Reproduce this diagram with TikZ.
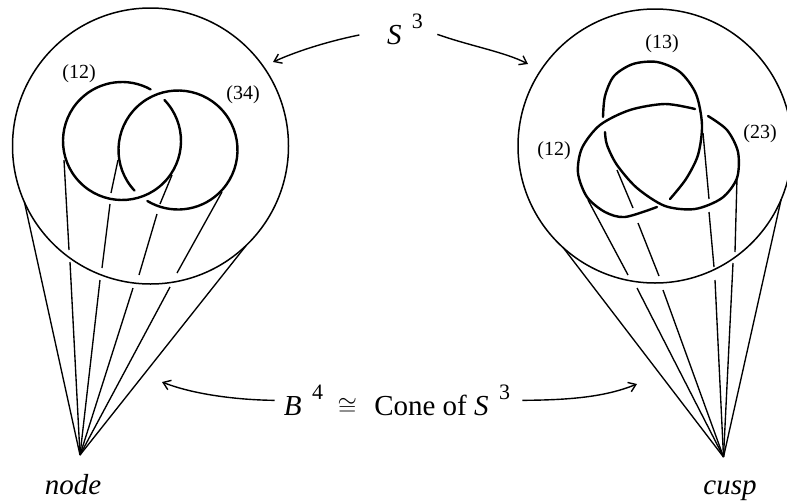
\documentclass[tikz,border=0pt]{standalone}
\usepackage{fontspec}
\setmainfont{Liberation Serif}
\usetikzlibrary{arrows.meta,positioning}
\newcommand{\supnum}[1]{\hspace{0.36em}\raisebox{0.52em}{\fontsize{22}{22}\selectfont #1}}

\begin{document}
\begin{tikzpicture}[
  x=1pt, y=-1pt,
  ball/.style={circle, draw, line width=1.5pt, inner sep=0pt, outer sep=0pt, minimum size=#1},
  knot/.style={line width=2.4pt, line cap=round},
  cone/.style={line width=1.35pt},
  link/.style={line width=1.4pt, -{Straight Barb[length=7pt,width=10pt]}},
  strand/.style={font=\fontsize{20}{22}\selectfont},
  caption/.style={font=\fontsize{29}{31}\selectfont, inner sep=0pt},
]
  \useasboundingbox (0,0) rectangle (787,501);

  % Boundary spheres and cone points
  \node[ball=276pt] (ballL) at (150.5,146) {};
  \node[ball=274pt] (ballR) at (655,146) {};
  \coordinate (apexL) at (80,455);
  \coordinate (apexR) at (723.5,457);

  % Hopf link
  \draw[knot] (122,141) ++(-44:59) arc[start angle=-44, end angle=299, radius=59];
  \draw[knot] (178,150) ++(137:59.5) arc[start angle=137, end angle=481, radius=59.5];
  \node[strand] (l12) at (79,74) {(12)};
  \node[strand] (l34) at (243,95) {(34)};

  % Left cone
  \draw[cone] (ballL.204) -- (apexL);
  \draw[cone] (64,160) -- (69,250) (70,262) -- (apexL);
  \draw[cone] (118,160) -- (111,193) (110,204) -- (102,268) (100,280) -- (apexL);
  \draw[cone] (172,175) -- (160,204) (157,214) -- (139,275) (133,288) -- (apexL);
  \draw[cone] (222,192) -- (177,273) (170,287) -- (apexL);
  \draw[cone] (ballL.314) -- (apexL);

  % Trefoil
  \draw[knot] plot[smooth] coordinates {(603,117) (605,96) (614,76) (633,64) (657,62) (680,72)
    (696,94) (702,125) (698,155) (686,179) (670,199)};
  \draw[knot] plot[smooth] coordinates {(695,109) (665,104) (630,110) (600,125) (582,148)
    (578,173) (587,197) (605,212) (625,217) (657,207)};
  \draw[knot] plot[smooth] coordinates {(708,116) (727,130) (738,152) (737,178) (722,198)
    (695,209) (665,206) (637,188) (617,165) (607,145) (605,132)};
  \node[strand] (r13) at (662,44) {(13)};
  \node[strand] (r12) at (554,151) {(12)};
  \node[strand] (r23) at (760,134) {(23)};

  % Right cone
  \draw[cone] (ballR.228.5) -- (apexR);
  \draw[cone] (588,200) -- (628,275) (637,288) -- (apexR);
  \draw[cone] (617,170) -- (633,208) (638,223) -- (659,276) (663,290) -- (apexR);
  \draw[cone] (703,133) -- (709,199) (709,212) -- (714,267) (715,280) -- (apexR);
  \draw[cone] (737,178) -- (735,252) (733,263) -- (apexR);
  \draw[cone] (ballR.337) -- (apexR);

  % Labels
  \node[caption, anchor=base] (sphere) at (405,44) {\textit{S}\supnum{3}};
  \node[caption, anchor=base] (ball4) at (397,415) {\textit{B}\supnum{4}\hspace{0.5em}$\cong$\hspace{0.6em}Cone of \textit{S}\supnum{3}};
  \node[caption, anchor=base] (nodept) at (73,494) {\textit{node}};
  \node[caption, anchor=base] (cusppt) at (730,494) {\textit{cusp}};

  % Arrows
  \coordinate (ballLtop) at (273,62);
  \coordinate (ballRtop) at (528,64);
  \coordinate (coneL) at (162,382);
  \coordinate (coneR) at (637,384);
  \draw[link, shorten <=28pt] (sphere.west) .. controls (325,42) and (295,52) .. (ballLtop);
  \draw[link, shorten <=15pt] (sphere.east) .. controls (470,46) and (505,52) .. (ballRtop);
  \draw[link, shorten <=9pt] (ball4.west) .. controls (240,400) and (195,395) .. (coneL);
  \draw[link, shorten <=12pt] (ball4.east) .. controls (570,400) and (605,397) .. (coneR);
\end{tikzpicture}
\end{document}
